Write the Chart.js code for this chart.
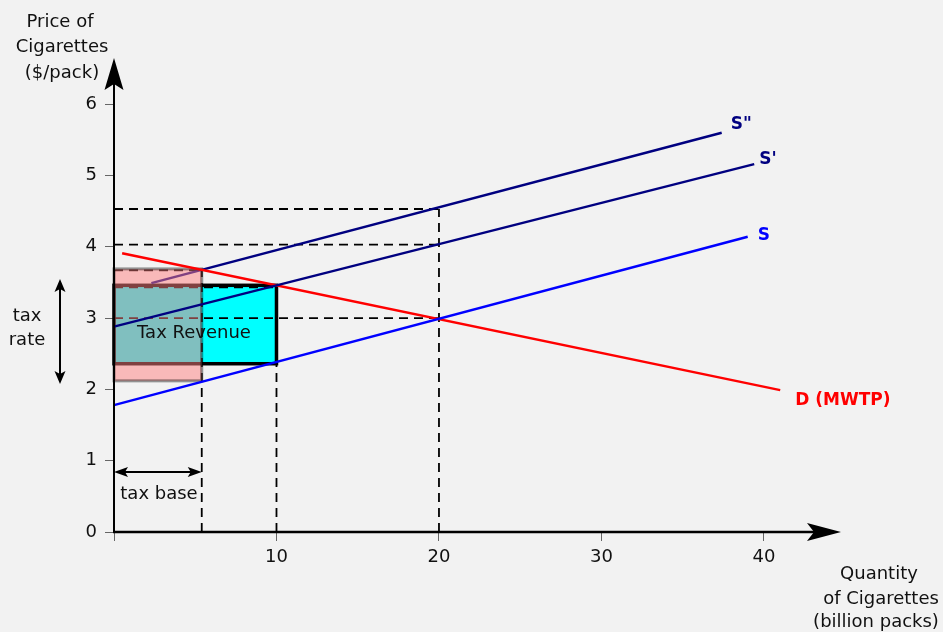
<!DOCTYPE html>
<html><head><meta charset="utf-8">
<script src="https://cdn.jsdelivr.net/npm/chart.js@4.4.0/dist/chart.umd.min.js"></script>
<style>html,body{margin:0;padding:0;background:#F2F2F2;} #wrap{width:943px;height:632px;}</style>
</head><body><div id="wrap"><canvas id="c" width="943" height="632"></canvas></div>
<script>
// ---- data ----
const xTicks = [0, 10, 20, 30, 40];
const yTicks = [0, 1, 2, 3, 4, 5, 6];
const sQ  = [0, 39],    sP  = [1.78, 4.14];   // S
const s1Q = [0, 39.4],  s1P = [2.88, 5.16];   // S'
const s2Q = [2.3, 37.4], s2P = [3.49, 5.6];   // S"
const dQ  = [0.5, 41],  dP  = [3.91, 1.99];   // D (MWTP)
const hGuideP    = [4.53, 4.03, 3.0, 3.67, 3.43];
const hGuideQEnd = [20, 20, 20, 5.4, 10];
const vGuideQ    = [20, 10, 5.4];
const vGuidePEnd = [4.53, 3.46, 3.67];
const revBoxQ = [0, 10],  revBoxP = [2.36, 3.46];
const baseBoxQ = [0, 5.4], baseBoxP = [2.12, 3.69];
const curveLabels = ['S"', "S'", 'S', 'D (MWTP)'];

const FONT = '"DejaVu Sans", Verdana, sans-serif';

function seg(q, p) { return q.map((v, i) => ({x: v, y: p[i]})); }

const datasets = [];
datasets.push({label: 'S', data: seg(sQ, sP), borderColor: '#0000FF', borderWidth: 2.5, order: 0});
datasets.push({label: "S'", data: seg(s1Q, s1P), borderColor: '#000080', borderWidth: 2.5, order: 0});
datasets.push({label: 'D', data: seg(dQ, dP), borderColor: '#FF0000', borderWidth: 2.5, order: 0});
datasets.push({label: 'S"', data: seg(s2Q, s2P), borderColor: '#000080', borderWidth: 2.5, order: 2, id: 'S2'});
hGuideP.forEach((p, i) => datasets.push({data: seg([0, hGuideQEnd[i]], [p, p]), borderColor: '#000', borderWidth: 1.8, borderDash: [9, 6], order: 3}));
vGuideQ.forEach((q, i) => datasets.push({data: seg([q, q], [0, vGuidePEnd[i]]), borderColor: '#000', borderWidth: 1.8, borderDash: [9, 6], order: 3}));
datasets.forEach(d => { d.showLine = true; d.pointRadius = 0; d.fill = false; d.tension = 0; d.clip = false; });

function arrowHead(ctx, tx, ty, dx, dy, len, hw, notch) {
  const px = -dy, py = dx;
  const bx = tx - dx * len, by = ty - dy * len;
  ctx.beginPath();
  ctx.moveTo(tx, ty);
  ctx.lineTo(bx + px * hw, by + py * hw);
  ctx.lineTo(tx - dx * (len - notch), ty - dy * (len - notch));
  ctx.lineTo(bx - px * hw, by - py * hw);
  ctx.closePath();
  ctx.fill();
}

const econPlugin = {
  id: 'econ',
  beforeDatasetsDraw(chart) {
    const {ctx, scales: {x, y}} = chart;
    const x0 = x.getPixelForValue(revBoxQ[0]), x1 = x.getPixelForValue(revBoxQ[1]);
    const y0 = y.getPixelForValue(revBoxP[1]), y1 = y.getPixelForValue(revBoxP[0]);
    ctx.save();
    ctx.fillStyle = '#00FFFF';
    ctx.fillRect(x0, y0, x1 - x0, y1 - y0);
    ctx.lineWidth = 3.5; ctx.strokeStyle = '#000';
    ctx.strokeRect(x0, y0, x1 - x0, y1 - y0);
    ctx.restore();
  },
  afterDatasetDraw(chart, args) {
    if (chart.data.datasets[args.index].id !== 'S2') return;
    const {ctx, scales: {x, y}} = chart;
    const x0 = x.getPixelForValue(baseBoxQ[0]), x1 = x.getPixelForValue(baseBoxQ[1]);
    const y0 = y.getPixelForValue(baseBoxP[1]), y1 = y.getPixelForValue(baseBoxP[0]);
    ctx.save();
    ctx.fillStyle = 'rgba(255,128,128,0.5)';
    ctx.fillRect(x0, y0, x1 - x0, y1 - y0);
    ctx.lineWidth = 3; ctx.strokeStyle = 'rgba(0,0,0,0.4)';
    ctx.strokeRect(x0, y0, x1 - x0, y1 - y0);
    ctx.restore();
  },
  afterDraw(chart) {
    const {ctx, chartArea: a, scales: {x, y}} = chart;
    ctx.save();
    ctx.fillStyle = '#000'; ctx.strokeStyle = '#000';
    ctx.lineWidth = 2;
    ctx.beginPath(); ctx.moveTo(a.left, a.bottom + 1); ctx.lineTo(a.left, a.top + 20); ctx.stroke();
    arrowHead(ctx, a.left, a.top - 2, 0, -1, 32, 9.5, 6);
    ctx.lineWidth = 2.5;
    ctx.beginPath(); ctx.moveTo(a.left - 1, a.bottom); ctx.lineTo(a.right - 20, a.bottom); ctx.stroke();
    arrowHead(ctx, a.right + 1, a.bottom, 1, 0, 34, 9, 7);
    ctx.lineWidth = 2;
    ctx.beginPath(); ctx.moveTo(60, 286); ctx.lineTo(60, 377); ctx.stroke();
    arrowHead(ctx, 60, 279, 0, -1, 13, 5.5, 3);
    arrowHead(ctx, 60, 384, 0, 1, 13, 5.5, 3);
    const bx0 = x.getPixelForValue(baseBoxQ[0]), bx1 = x.getPixelForValue(baseBoxQ[1]);
    ctx.beginPath(); ctx.moveTo(bx0 + 6, 472); ctx.lineTo(bx1 - 6, 472); ctx.stroke();
    arrowHead(ctx, bx0, 472, -1, 0, 14, 5, 3);
    arrowHead(ctx, bx1, 472, 1, 0, 14, 5, 3);
    ctx.textAlign = 'center'; ctx.textBaseline = 'middle';
    ctx.font = '18px ' + FONT; ctx.fillStyle = '#111';
    ctx.fillText('Price of', 60, 22);
    ctx.fillText('Cigarettes', 62, 47);
    ctx.fillText('($/pack)', 62, 73);
    ctx.fillText('Quantity', 879, 574);
    ctx.fillText('of Cigarettes', 881, 599);
    ctx.fillText('(billion packs)', 876, 622);
    ctx.fillText('tax', 27, 316);
    ctx.fillText('rate', 27, 340);
    ctx.fillText('tax base', 159, 494);
    ctx.fillText('Tax Revenue', 194, 333);
    ctx.textAlign = 'left';
    ctx.font = 'bold 17px ' + FONT;
    const ends = [[s2Q, s2P, 9, -8, '#000080', curveLabels[0]], [s1Q, s1P, 5, -5, '#000080', curveLabels[1]], [sQ, sP, 10, -1, '#0000FF', curveLabels[2]], [dQ, dP, 15, 10, '#FF0000', curveLabels[3]]];
    ends.forEach(([q, p, ox, oy, col, t]) => {
      ctx.fillStyle = col;
      ctx.fillText(t, x.getPixelForValue(q[1]) + ox, y.getPixelForValue(p[1]) + oy);
    });
    ctx.restore();
  }
};

new Chart(document.getElementById('c'), {
  type: 'scatter',
  data: {datasets},
  options: {
    responsive: false, animation: false,
    layout: {padding: {left: 0, top: 60, right: 103, bottom: 0}},
    plugins: {legend: {display: false}, tooltip: {enabled: false}},
    scales: {
      x: {
        type: 'linear', min: 0, max: 44.68,
        afterBuildTicks: s => { s.ticks = xTicks.map(v => ({value: v})); },
        afterFit: s => { s.height = 100; },
        grid: {display: true, drawOnChartArea: false, drawTicks: true, tickLength: 9, color: '#666', lineWidth: 1},
        border: {display: false},
        ticks: {padding: 6, color: '#111', font: {family: FONT, size: 18}, maxRotation: 0, autoSkip: false,
                callback: v => (v === 0 ? '' : String(v))}
      },
      y: {
        type: 'linear', min: 0, max: 6.62,
        afterBuildTicks: s => { s.ticks = yTicks.map(v => ({value: v})); },
        afterFit: s => { s.width = 114; },
        grid: {display: true, drawOnChartArea: false, drawTicks: true, tickLength: 9, color: '#666', lineWidth: 1},
        border: {display: false},
        ticks: {padding: 8, color: '#111', font: {family: FONT, size: 18}, autoSkip: false,
                callback: v => String(v)}
      }
    }
  },
  plugins: [econPlugin]
});
</script>
</body></html>
